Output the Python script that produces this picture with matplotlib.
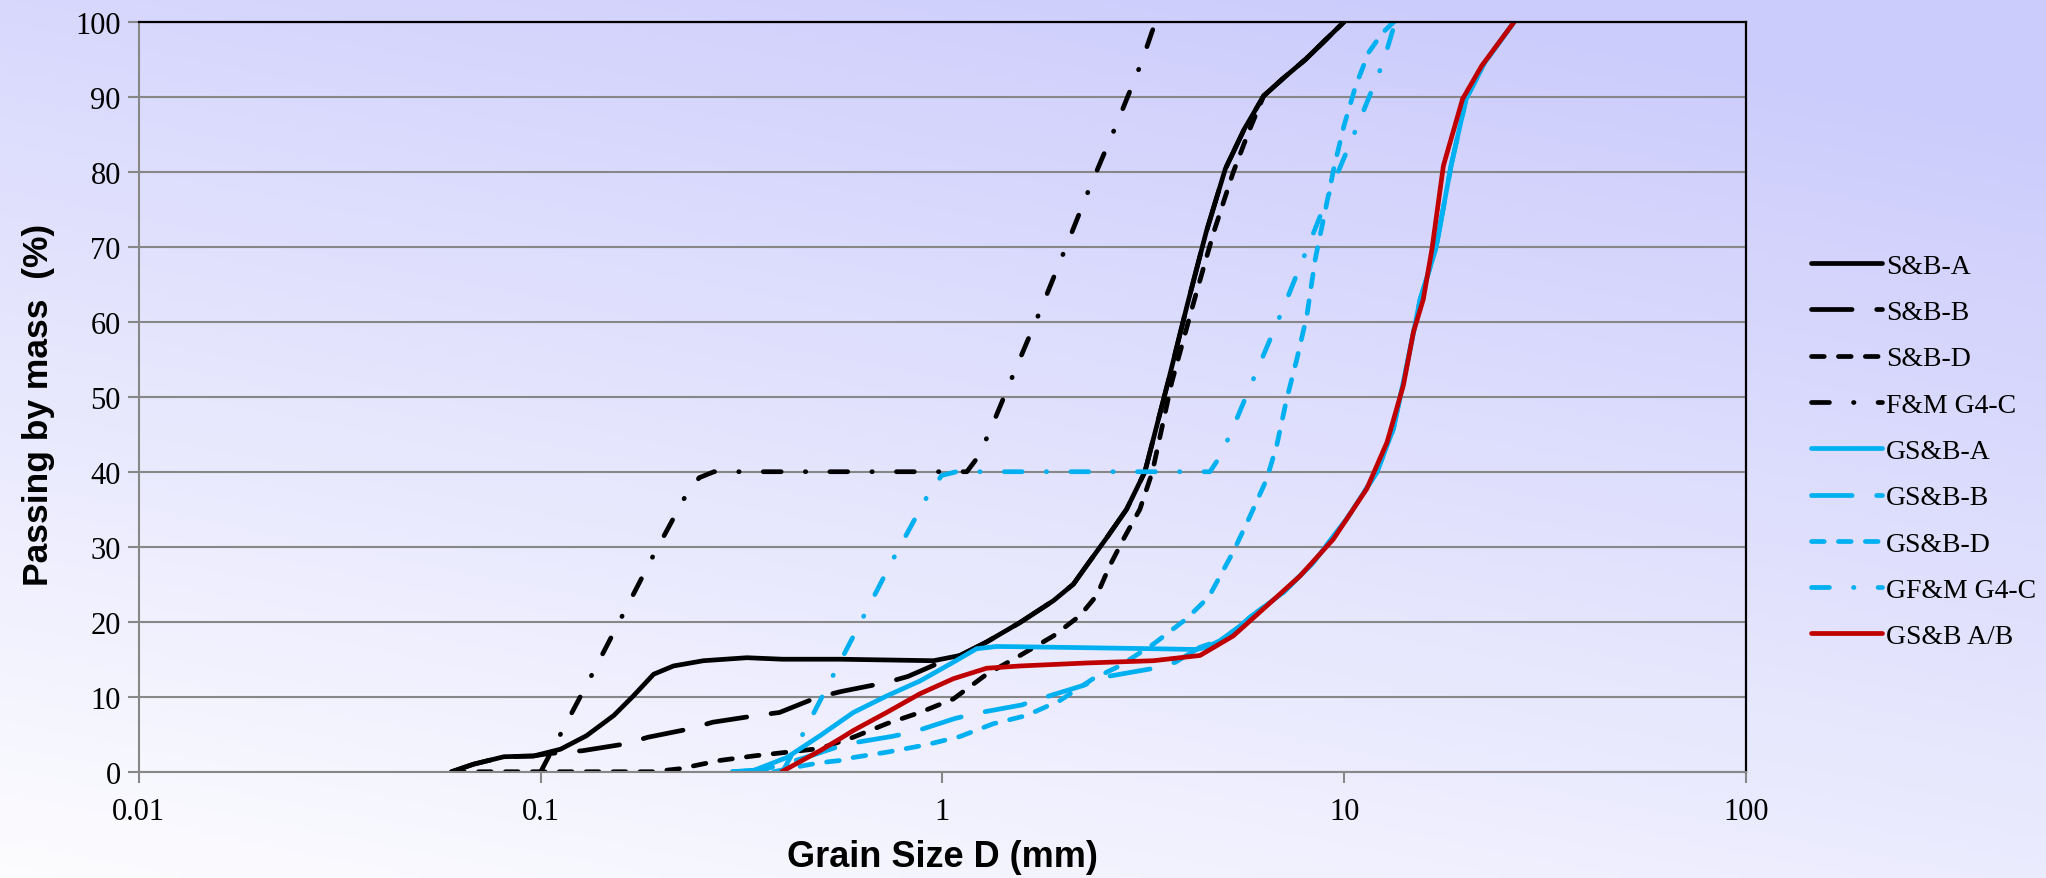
import numpy as np
import matplotlib
matplotlib.use("Agg")
import matplotlib.pyplot as plt
from matplotlib.ticker import FixedLocator, FixedFormatter, NullLocator

# grain size (mm) / passing (%)
sba_x = [0.06, 0.068, 0.081, 0.096, 0.112, 0.130, 0.152, 0.170, 0.191, 0.214, 0.254, 0.326, 0.40,
         0.556, 0.95, 1.106, 1.288, 1.56, 1.888, 2.117, 2.285, 2.564, 2.873, 3.19, 3.64, 4.06,
         4.53, 5.06, 5.64, 6.30, 7.03, 8.02, 10.0]
sba_y = [0, 1.0, 2.0, 2.1, 3.0, 4.8, 7.5, 10.1, 13.0, 14.1, 14.8, 15.2, 15.0,
         15.0, 14.8, 15.5, 17.3, 19.9, 22.8, 25.0, 27.5, 31.2, 35.0, 40.0, 51.9, 62.1,
         71.9, 80.4, 85.7, 90.1, 92.4, 95.0, 100]

sbb_x = [0.06, 0.068, 0.081, 0.096, 0.104, 0.127, 0.162, 0.185, 0.234, 0.268, 0.345, 0.393, 0.487,
         0.56, 0.726, 0.82, 1.0, 1.106, 1.288, 1.56, 1.888, 2.117, 2.285, 2.564, 2.873, 3.19,
         3.64, 4.06, 4.53, 5.06, 5.64, 6.30, 7.03, 8.02, 10.0]
sbb_y = [0, 1.0, 2.0, 2.1, 2.4, 2.8, 3.7, 4.6, 5.7, 6.6, 7.5, 7.9, 9.9,
         10.7, 11.9, 12.7, 14.7, 15.5, 17.3, 19.9, 22.8, 25.0, 27.5, 31.2, 35.0, 40.0,
         51.9, 62.1, 71.9, 80.4, 85.7, 90.1, 92.4, 95.0, 100]

sbd_x = [0.06, 0.19, 0.222, 0.279, 0.338, 0.41, 0.4955, 0.60, 0.726, 0.879, 1.064, 1.288, 1.56,
         1.888, 2.198, 2.42, 2.61, 2.82, 3.10, 3.33, 3.72, 4.24, 4.73, 5.29, 5.77, 6.30, 7.03,
         8.02, 10.0]
sbd_y = [0, 0, 0.4, 1.5, 2.1, 2.6, 3.1, 4.6, 6.4, 7.9, 9.7, 13.0, 15.5,
         18.1, 20.8, 23.5, 27.5, 31.0, 35.0, 40.0, 51.9, 63.0, 71.9, 79.9, 85.2, 90.1, 92.4,
         95.0, 100]

fm_x = [0.1, 0.112, 0.134, 0.160, 0.191, 0.229, 0.248, 0.27, 1.15, 1.215, 1.30, 1.507, 1.749,
        2.02, 2.33, 2.706, 3.13, 3.39]
fm_y = [0, 5.0, 12.9, 20.9, 28.9, 36.7, 39.2, 40.0, 40.0, 41.7, 44.9, 53.2, 61.4,
        69.7, 78.0, 86.2, 94.6, 100]

gsba_x = [0.30, 0.338, 0.41, 0.4955, 0.60, 0.726, 0.879, 1.064, 1.216, 1.364, 1.888, 3.346, 4.29,
          4.55, 4.91, 5.5, 5.83, 7.05, 8.38, 10.14, 12.05, 13.25, 14.3, 15.45, 16.9, 18.44,
          20.1, 22.4, 26.5]
gsba_y = [0, 0.15, 1.9, 4.8, 7.9, 10.1, 12.1, 14.6, 16.4, 16.7, 16.6, 16.4, 16.3,
          16.6, 17.5, 19.4, 20.6, 23.9, 27.9, 33.7, 39.9, 45.7, 54.1, 63.0, 69.7, 80.8,
          89.7, 94.6, 100]

gsbb_x = [0.30, 0.36, 0.45, 0.577, 0.747, 0.846, 1.074, 1.216, 1.574, 1.766, 2.24, 2.51, 3.285,
          3.8, 4.375, 4.91, 5.5, 5.83, 7.05, 8.38, 10.14, 12.05, 13.25, 14.3, 15.45, 16.9,
          18.44, 20.1, 22.4, 26.5]
gsbb_y = [0, 0.3, 1.8, 3.7, 4.7, 5.3, 7.1, 7.8, 8.9, 9.8, 11.5, 12.6, 13.7,
          14.6, 16.6, 17.5, 19.4, 20.6, 23.9, 27.9, 33.7, 39.9, 45.7, 54.1, 63.0, 69.7,
          80.8, 89.7, 94.6, 100]

gsbd_x = [0.38, 0.45, 0.4955, 0.556, 0.60, 0.726, 0.913, 1.106, 1.338, 1.62, 1.961, 2.37, 2.76,
          3.346, 4.05, 4.6, 5.29, 5.83, 6.41, 6.79, 7.19, 7.62, 8.07, 8.47, 8.95, 9.45, 9.98,
          10.67, 11.5, 12.44, 13.3]
gsbd_y = [0, 0.8, 1.2, 1.5, 1.9, 2.6, 3.6, 4.7, 6.4, 7.5, 9.5, 12.4, 14.1,
          17.0, 20.4, 23.3, 29.3, 34.1, 39.0, 43.5, 49.7, 55.0, 60.8, 68.4, 74.6, 80.8, 86.1,
          91.4, 95.9, 98.5, 100]

gfm_x = [0.4, 0.449, 0.535, 0.639, 0.763, 0.916, 0.995, 1.084, 4.63, 4.86, 5.195, 6.03, 7.0,
         8.08, 9.32, 10.8, 12.5, 13.4]
gfm_y = [0, 5.0, 12.9, 20.9, 28.9, 36.7, 39.5, 40.0, 40.0, 41.7, 44.9, 53.2, 61.4,
         69.7, 78.0, 86.2, 94.6, 100]

gsbab_x = [0.398, 0.4955, 0.556, 0.60, 0.726, 0.879, 1.064, 1.288, 1.56, 2.285, 3.346, 4.05, 4.375,
           5.29, 6.41, 7.76, 9.39, 11.37, 12.77, 14.03, 14.86, 15.73, 16.53, 17.65, 19.7,
           21.97, 26.5]
gsbab_y = [0, 2.8, 4.4, 5.5, 7.9, 10.4, 12.4, 13.8, 14.1, 14.5, 14.8, 15.3, 15.5,
           18.1, 22.1, 26.1, 31.0, 37.7, 43.9, 51.5, 58.6, 63.0, 69.7, 80.8, 89.7,
           94.1, 100]

x_ticks = [0.01, 0.1, 1, 10, 100]
x_tick_labels = ["0.01", "0.1", "1", "10", "100"]
y_ticks = list(range(0, 101, 10))

BLACK = "#000000"
CYAN = "#00B0F0"
RED = "#C00000"
long_dash = (0, (8.6, 5.2))
short_dash = (0, (2.7, 3.0))
dash_dot = (0, (3.8, 5.1, 0.1, 5.1))

series = [
    ("S&B-A", sba_x, sba_y, BLACK, "-"),
    ("S&B-B", sbb_x, sbb_y, BLACK, long_dash),
    ("S&B-D", sbd_x, sbd_y, BLACK, short_dash),
    ("F&M G4-C", fm_x, fm_y, BLACK, dash_dot),
    ("GS&B-A", gsba_x, gsba_y, CYAN, "-"),
    ("GS&B-B", gsbb_x, gsbb_y, CYAN, long_dash),
    ("GS&B-D", gsbd_x, gsbd_y, CYAN, short_dash),
    ("GF&M G4-C", gfm_x, gfm_y, CYAN, dash_dot),
    ("GS&B A/B", gsbab_x, gsbab_y, RED, "-"),
]

serif = ["Liberation Serif", "DejaVu Serif"]
sans = ["Liberation Sans", "DejaVu Sans"]

fig = plt.figure(figsize=(20.46, 8.79), dpi=100)

# background gradient
bg = fig.add_axes([0, 0, 1, 1], zorder=-10)
gx, gy = np.meshgrid(np.linspace(0, 1, 400), np.linspace(0, 1, 200))
t = np.clip(0.35 * gx + 0.75 * gy, 0, 1)
c0 = np.array([0.99, 0.99, 1.0])
c1 = np.array([0.80, 0.80, 0.99])
img = c0[None, None, :] * (1 - t[..., None]) + c1[None, None, :] * t[..., None]
bg.imshow(img, origin="lower", aspect="auto", extent=[0, 1, 0, 1])
bg.axis("off")

ax = fig.add_axes([0.0679, 0.1209, 0.7855, 0.8533])
ax.set_facecolor("none")

for name, xs, ys, col, ls in series:
    ax.plot(xs, ys, color=col, linestyle=ls, linewidth=3.4, label=name,
            dash_capstyle="round", solid_capstyle="round", solid_joinstyle="round")

ax.set_xscale("log")
ax.set_xlim(0.01, 100)
ax.set_ylim(0, 100)
ax.xaxis.set_major_locator(FixedLocator(x_ticks))
ax.xaxis.set_major_formatter(FixedFormatter(x_tick_labels))
ax.xaxis.set_minor_locator(NullLocator())
ax.set_yticks(y_ticks)

ax.grid(axis="y", color="#878787", linewidth=1.5)
ax.set_axisbelow(True)
ax.spines["left"].set_color("#878787")
ax.spines["left"].set_linewidth(1.5)
ax.spines["bottom"].set_color("#878787")
ax.spines["bottom"].set_linewidth(1.5)
ax.spines["top"].set_color("black")
ax.spines["top"].set_linewidth(1.6)
ax.spines["right"].set_color("black")
ax.spines["right"].set_linewidth(1.6)

ax.tick_params(axis="both", which="major", direction="out", length=8, width=1.5,
               color="#878787", labelsize=22, pad=5)
ax.tick_params(axis="x", pad=10)
for lab in ax.get_xticklabels() + ax.get_yticklabels():
    lab.set_fontfamily(serif)

ax.set_xlabel("Grain Size D (mm)", fontsize=26, fontweight="bold", family=sans)
ax.set_ylabel("Passing by mass  (%)", fontsize=25.5, fontweight="bold", family=sans)
ax.xaxis.set_label_coords(0.5, -0.09)
ax.yaxis.set_label_coords(-0.052, 0.49)

leg = ax.legend(loc="upper left", bbox_to_anchor=(1811 / 2046, 0.7105),
                bbox_transform=fig.transFigure, frameon=False, borderpad=0,
                borderaxespad=0, handlelength=2.55, handletextpad=0.15,
                labelspacing=0.75, prop={"family": serif, "size": 20})

fig.savefig("out.png", dpi=100)
plt.close(fig)
